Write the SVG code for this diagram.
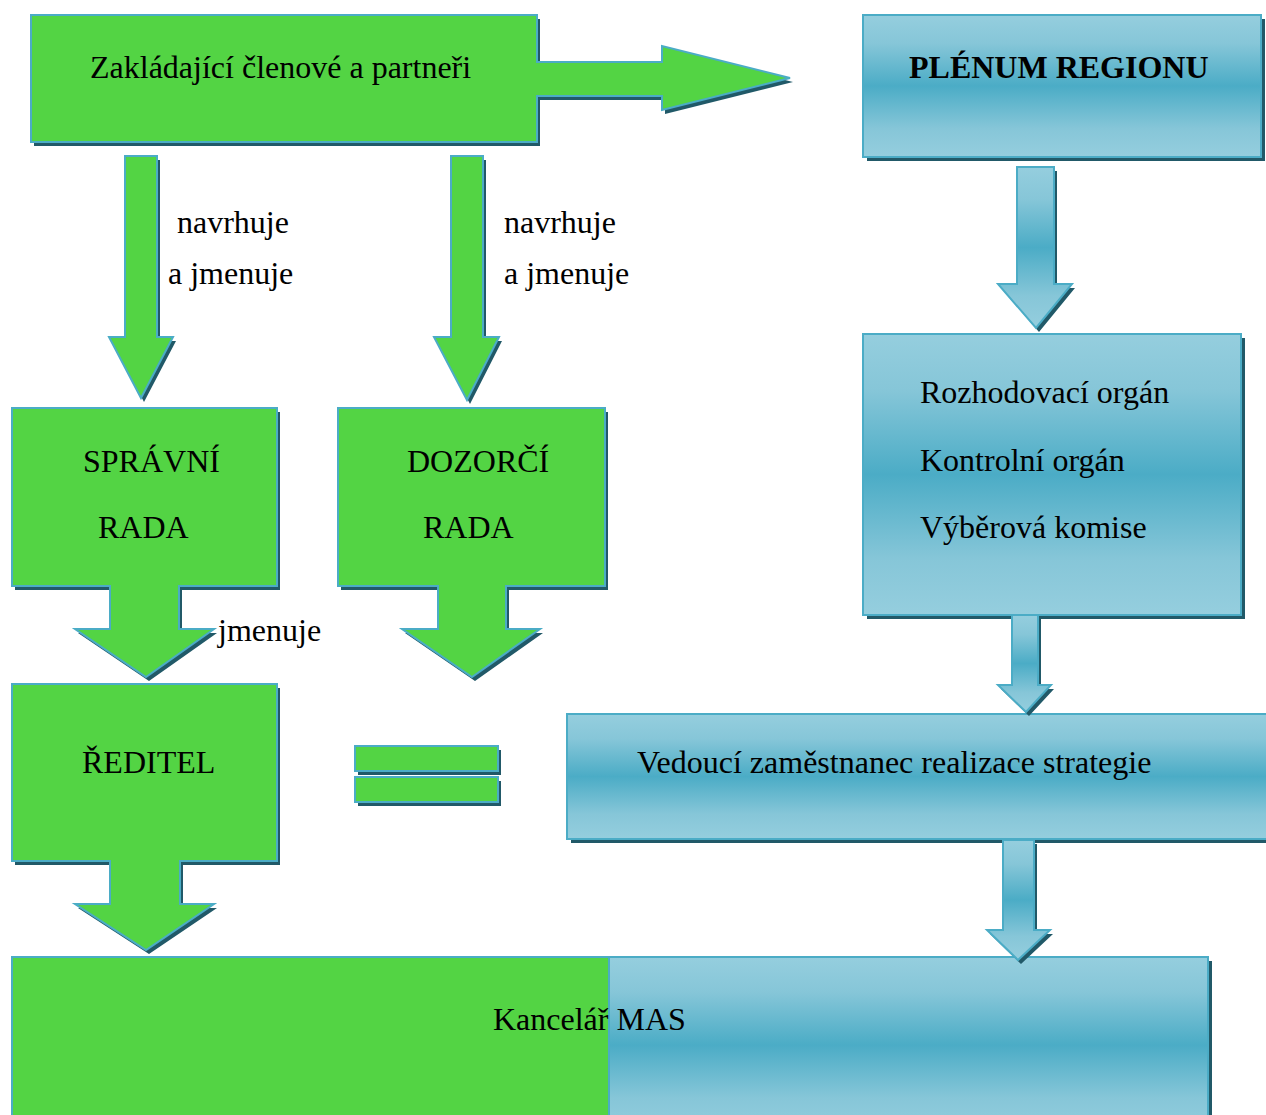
<svg xmlns="http://www.w3.org/2000/svg" width="1266" height="1115" viewBox="0 0 1266 1115" font-family="'Liberation Serif', 'Times New Roman', serif">
<defs>
<linearGradient id="bg" x1="0" y1="0" x2="0" y2="1">
<stop offset="0" stop-color="#95CEDE"/>
<stop offset="0.2" stop-color="#86C6D8"/>
<stop offset="0.5" stop-color="#4BACC6"/>
<stop offset="0.8" stop-color="#86C6D8"/>
<stop offset="1" stop-color="#95CEDE"/>
</linearGradient>
<style>
.g{fill:#53D444;stroke:#4BACC6;stroke-width:2}
.b{fill:url(#bg);stroke:#4BACC6;stroke-width:2}
.sh{fill:#215968;stroke:none}
.t{font-family:"Liberation Serif","Times New Roman",serif;font-size:32px;fill:#000}
.tb{font-family:"Liberation Serif","Times New Roman",serif;font-size:32px;font-weight:bold;fill:#000}
</style>
</defs>
<rect width="1266" height="1115" fill="#fff"/>

<g id="zakladajici">
<path class="sh" transform="translate(3,4)" d="M31,15 H537 V62 H662 V46 L790,78 L662,110 V96 H537 V142 H31 Z"/>
<path class="g" d="M31,15 H537 V62 H662 V46 L790,78 L662,110 V96 H537 V142 H31 Z"/>
<text class="t" x="90" y="78">Zakládající členové a partneři</text>
</g>

<g id="plenum">
<rect class="sh" x="867" y="19" width="398" height="142"/>
<rect class="b" x="863" y="15" width="398" height="142"/>
<text class="tb" x="909" y="78">PLÉNUM REGIONU</text>
</g>

<g id="organy">
<rect class="sh" x="867" y="338" width="378" height="281"/>
<rect class="b" x="863" y="334" width="378" height="281"/>
<text class="t" x="920" y="403">Rozhodovací orgán</text>
<text class="t" x="920" y="471">Kontrolní orgán</text>
<text class="t" x="920" y="538">Výběrová komise</text>
</g>

<g id="spravni">
<path class="sh" transform="translate(3,4)" d="M12,408 H277 V586 H179 V629 H214 L146,677 L75,629 H110 V586 H12 Z"/>
<path class="g" d="M12,408 H277 V586 H179 V629 H214 L146,677 L75,629 H110 V586 H12 Z"/>
<text class="t" x="83" y="472">SPRÁVNÍ</text>
<text class="t" x="98" y="538">RADA</text>
</g>

<g id="dozorci">
<path class="sh" transform="translate(3,4)" d="M338,408 H605 V586 H506 V629 H540 L472,677 L402,629 H438 V586 H338 Z"/>
<path class="g" d="M338,408 H605 V586 H506 V629 H540 L472,677 L402,629 H438 V586 H338 Z"/>
<text class="t" x="407" y="472">DOZORČÍ</text>
<text class="t" x="423" y="538">RADA</text>
</g>

<g id="reditel">
<path class="sh" transform="translate(3,4)" d="M12,684 H277 V861 H180 V904 H214 L146,950 L75,904 H110 V861 H12 Z"/>
<path class="g" d="M12,684 H277 V861 H180 V904 H214 L146,950 L75,904 H110 V861 H12 Z"/>
<text class="t" x="82" y="773">ŘEDITEL</text>
</g>

<g id="rovnase">
<rect class="sh" x="358" y="750" width="143" height="25"/>
<rect class="g" x="355" y="746" width="143" height="25"/>
<rect class="sh" x="358" y="781" width="143" height="25"/>
<rect class="g" x="355" y="777" width="143" height="25"/>
</g>

<g id="vedouci">
<rect class="sh" x="571" y="718" width="700" height="125"/>
<rect class="b" x="567" y="714" width="704" height="125"/>
<text class="t" x="637" y="773">Vedoucí zaměstnanec realizace strategie</text>
</g>

<g id="kancelar">
<rect class="sh" x="613" y="961" width="599" height="176"/>
<rect class="g" x="12" y="957" width="597" height="180"/>
<rect class="b" x="609" y="957" width="599" height="176"/>
<text class="t" x="493" y="1030">Kancelář MAS</text>
</g>

<g id="connectors">
<path class="sh" transform="translate(3,4)" d="M125,156 H157 V337 H173 L141,398 L109,337 H125 Z"/>
<path class="g" d="M125,156 H157 V337 H173 L141,398 L109,337 H125 Z"/>
<path class="sh" transform="translate(3,4)" d="M451,156 H483 V337 H499 L467,400 L434,337 H451 Z"/>
<path class="g" d="M451,156 H483 V337 H499 L467,400 L434,337 H451 Z"/>
<path class="sh" transform="translate(3,4)" d="M1017,167 H1054 V284 H1072 L1036,328 L998,284 H1017 Z"/>
<path class="b" d="M1017,167 H1054 V284 H1072 L1036,328 L998,284 H1017 Z"/>
<path class="sh" transform="translate(3,4)" d="M1012,615 H1038 V685 H1051 L1026,712 L998,685 H1012 Z"/>
<path class="b" d="M1012,615 H1038 V685 H1051 L1026,712 L998,685 H1012 Z"/>
<path class="sh" transform="translate(3,4)" d="M1003,840 H1034 V930 H1050 L1018,960 L987,930 H1003 Z"/>
<path class="b" d="M1003,840 H1034 V930 H1050 L1018,960 L987,930 H1003 Z"/>
<text class="t" x="177" y="233">navrhuje</text>
<text class="t" x="168" y="284">a jmenuje</text>
<text class="t" x="504" y="233">navrhuje</text>
<text class="t" x="504" y="284">a jmenuje</text>
<text class="t" x="218" y="641">jmenuje</text>
</g>
</svg>
